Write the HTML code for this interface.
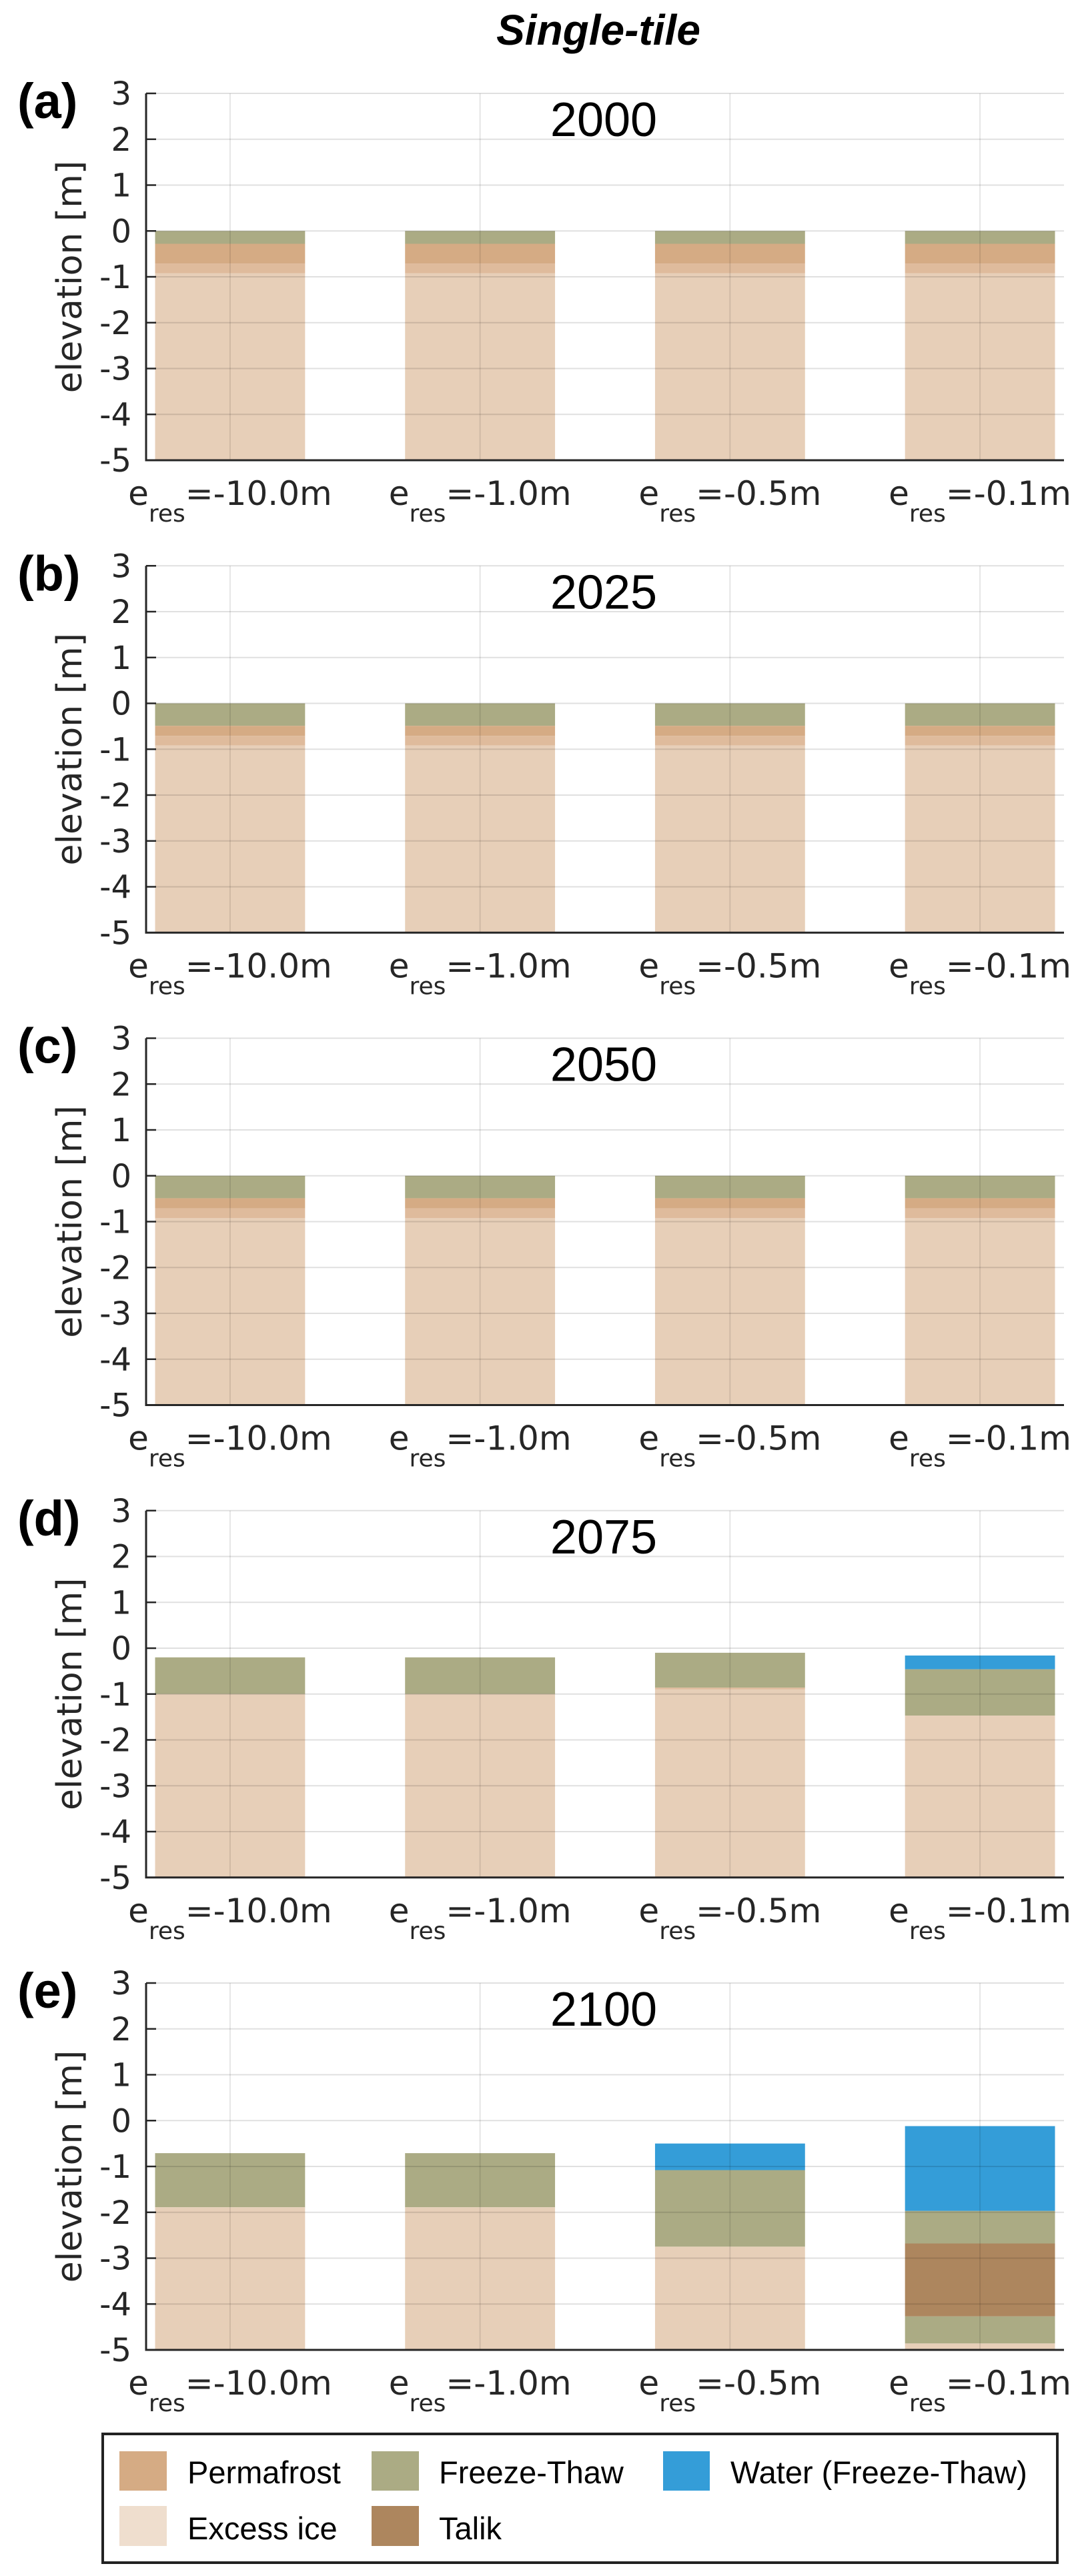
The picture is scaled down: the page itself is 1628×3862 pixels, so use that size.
<!DOCTYPE html>
<html><head><meta charset="utf-8"><title>Single-tile</title>
<style>
html,body{margin:0;padding:0;background:#fff;}
svg{display:block;}
</style></head>
<body>
<svg id="fig" xmlns="http://www.w3.org/2000/svg" width="1628" height="3862" viewBox="0 0 1628 3862">
<rect x="0" y="0" width="1628" height="3862" fill="#fff"/>
<text x="897" y="67" font-family="Liberation Sans, sans-serif" font-size="64" font-weight="bold" font-style="italic" text-anchor="middle" fill="#000">Single-tile</text>
<g id="panels"></g>
<g>
  <rect x="154" y="3649" width="1431" height="193" fill="#fff" stroke="#222" stroke-width="4"/>
  <rect x="179" y="3675" width="71" height="59" fill="#d5ab84"/>
  <text x="281" y="3723" font-family="Liberation Sans, sans-serif" font-size="47" fill="#000">Permafrost</text>
  <rect x="557" y="3675" width="71" height="59" fill="#abab84"/>
  <text x="658" y="3723" font-family="Liberation Sans, sans-serif" font-size="47" fill="#000">Freeze-Thaw</text>
  <rect x="994" y="3675" width="70" height="59" fill="#349dd8"/>
  <text x="1095" y="3723" font-family="Liberation Sans, sans-serif" font-size="47" fill="#000">Water (Freeze-Thaw)</text>
  <rect x="179" y="3757" width="71" height="60" fill="#efdece"/>
  <text x="281" y="3807" font-family="Liberation Sans, sans-serif" font-size="47" fill="#000">Excess ice</text>
  <rect x="557" y="3757" width="71" height="60" fill="#ad865e"/>
  <text x="658" y="3807" font-family="Liberation Sans, sans-serif" font-size="47" fill="#000">Talik</text>
</g>
</svg>
<script>
// ---- data ----
var panelLetters = ['(a)','(b)','(c)','(d)','(e)'];
var years = ['2000','2025','2050','2075','2100'];
var categories = ['-10.0m','-1.0m','-0.5m','-0.1m'];
var yTicks = [3,2,1,0,-1,-2,-3,-4,-5];
// layers per bar: [top, bottom, type]  FT=freeze-thaw, PF=permafrost, MX=permafrost/excess ice, XI=excess ice, W=water, TK=talik
var layers2000 = [
  [[0,-0.28,'FT'],[-0.28,-0.71,'PF'],[-0.71,-0.92,'MX'],[-0.92,-5,'XI']],
  [[0,-0.28,'FT'],[-0.28,-0.71,'PF'],[-0.71,-0.92,'MX'],[-0.92,-5,'XI']],
  [[0,-0.28,'FT'],[-0.28,-0.71,'PF'],[-0.71,-0.92,'MX'],[-0.92,-5,'XI']],
  [[0,-0.28,'FT'],[-0.28,-0.71,'PF'],[-0.71,-0.92,'MX'],[-0.92,-5,'XI']]
];
var layers2025 = [
  [[0,-0.49,'FT'],[-0.49,-0.71,'PF'],[-0.71,-0.92,'MX'],[-0.92,-5,'XI']],
  [[0,-0.49,'FT'],[-0.49,-0.71,'PF'],[-0.71,-0.92,'MX'],[-0.92,-5,'XI']],
  [[0,-0.49,'FT'],[-0.49,-0.71,'PF'],[-0.71,-0.92,'MX'],[-0.92,-5,'XI']],
  [[0,-0.49,'FT'],[-0.49,-0.71,'PF'],[-0.71,-0.92,'MX'],[-0.92,-5,'XI']]
];
var layers2050 = [
  [[0,-0.49,'FT'],[-0.49,-0.71,'PF'],[-0.71,-0.92,'MX'],[-0.92,-5,'XI']],
  [[0,-0.49,'FT'],[-0.49,-0.71,'PF'],[-0.71,-0.92,'MX'],[-0.92,-5,'XI']],
  [[0,-0.49,'FT'],[-0.49,-0.71,'PF'],[-0.71,-0.92,'MX'],[-0.92,-5,'XI']],
  [[0,-0.49,'FT'],[-0.49,-0.71,'PF'],[-0.71,-0.92,'MX'],[-0.92,-5,'XI']]
];
var layers2075 = [
  [[-0.2,-1.0,'FT'],[-1.0,-5,'XI']],
  [[-0.2,-1.0,'FT'],[-1.0,-5,'XI']],
  [[-0.1,-0.86,'FT'],[-0.86,-0.9,'MX'],[-0.9,-5,'XI']],
  [[-0.16,-0.46,'W'],[-0.46,-1.47,'FT'],[-1.47,-5,'XI']]
];
var layers2100 = [
  [[-0.71,-1.89,'FT'],[-1.89,-5,'XI']],
  [[-0.71,-1.89,'FT'],[-1.89,-5,'XI']],
  [[-0.5,-1.08,'W'],[-1.08,-2.75,'FT'],[-2.75,-5,'XI']],
  [[-0.12,-1.97,'W'],[-1.97,-2.68,'FT'],[-2.68,-4.27,'TK'],[-4.27,-4.86,'FT'],[-4.86,-5,'XI']]
];
var allLayers = [layers2000, layers2025, layers2050, layers2075, layers2100];

// ---- layout ----
var NS = 'http://www.w3.org/2000/svg';
var colors = {FT:'#abab84', PF:'#d5ab84', MX:'#dfbb9c', XI:'#e7cfb8', W:'#349dd8', TK:'#ad865e'};
var typeNames = {FT:'freeze-thaw', PF:'permafrost', MX:'permafrost-excess-ice', XI:'excess-ice', W:'water', TK:'talik'};
var axL = 219, axR = 1595, panelTop0 = 140, panelStep = 708.25, panelH = 550;
var yMin = -5, yMax = 3, xMin = 0.664, xMax = 4.336, barW = 0.6;
function sx(v){ return axL + (v - xMin) / (xMax - xMin) * (axR - axL); }
function mk(tag, attrs, parent){
  var e = document.createElementNS(NS, tag);
  for (var k in attrs) e.setAttribute(k, attrs[k]);
  parent.appendChild(e); return e;
}
var root = document.getElementById('panels');
for (var p = 0; p < years.length; p++) {
  var ptop = panelTop0 + p * panelStep;
  var sy = (function(t){ return function(v){ return t + (yMax - v) / (yMax - yMin) * panelH; }; })(ptop);
  var g = mk('g', {}, root);
  
  
  var data = allLayers[p];
  for (var b = 0; b < data.length; b++) {
    var cx = b + 1;
    for (var l = 0; l < data[b].length; l++) {
      var L = data[b][l];
      var r = mk('rect', {x: sx(cx - barW/2), y: sy(L[0]), width: sx(cx + barW/2) - sx(cx - barW/2), height: sy(L[1]) - sy(L[0]), fill: colors[L[2]]}, g);
      
      
    }
  }
  for (var i = 0; i < yTicks.length; i++) {
    var gy = sy(yTicks[i]);
    var gl = mk('line', {x1: axL, x2: axR, y1: gy, y2: gy, stroke: '#000', 'stroke-opacity': 0.12, 'stroke-width': 2}, g);
    
    
    var tk = mk('line', {x1: axL, x2: axL + 15, y1: gy, y2: gy, stroke: '#262626', 'stroke-width': 2.5}, g);
    
    
    var tl = mk('text', {x: 197, y: gy + 17, 'text-anchor': 'end', 'font-family': 'DejaVu Sans, sans-serif', 'font-size': 48, fill: '#262626'}, g);
    tl.textContent = String(yTicks[i]);
    
    
  }
  for (var c = 0; c < categories.length; c++) {
    var gx = sx(c + 1);
    var vl = mk('line', {x1: gx, x2: gx, y1: ptop, y2: ptop + panelH, stroke: '#000', 'stroke-opacity': 0.1, 'stroke-width': 2}, g);
    
    
    var xl = mk('text', {x: gx, y: ptop + panelH + 67, 'text-anchor': 'middle', 'font-family': 'DejaVu Sans, sans-serif', 'font-size': 50, fill: '#262626'}, g);
    
    
    var t1 = mk('tspan', {}, xl); t1.textContent = 'e';
    var t2 = mk('tspan', {dy: 25, 'font-size': 36}, xl); t2.textContent = 'res';
    var t3 = mk('tspan', {dy: -25}, xl); t3.textContent = '=' + categories[c];
  }
  var ax = mk('path', {d: 'M' + axL + ' ' + ptop + ' L' + axL + ' ' + (ptop + panelH) + ' L' + axR + ' ' + (ptop + panelH), fill: 'none', stroke: '#262626', 'stroke-width': 3}, g);
  
  
  var yl = mk('text', {x: 0, y: 0, transform: 'translate(122,' + (ptop + panelH/2) + ') rotate(-90)', 'text-anchor': 'middle', 'font-family': 'DejaVu Sans, sans-serif', 'font-size': 52, fill: '#262626'}, g);
  yl.textContent = 'elevation [m]';
  
  
  var yt = mk('text', {x: 905, y: ptop + 64, 'text-anchor': 'middle', 'font-family': 'Liberation Sans, sans-serif', 'font-size': 72, fill: '#000'}, g);
  yt.textContent = years[p];
  
  
  var pl = mk('text', {x: 26, y: ptop + 37, 'font-family': 'Liberation Sans, sans-serif', 'font-size': 74, 'font-weight': 'bold', fill: '#000'}, g);
  pl.textContent = panelLetters[p];
  
  
}
</script>
</body></html>
